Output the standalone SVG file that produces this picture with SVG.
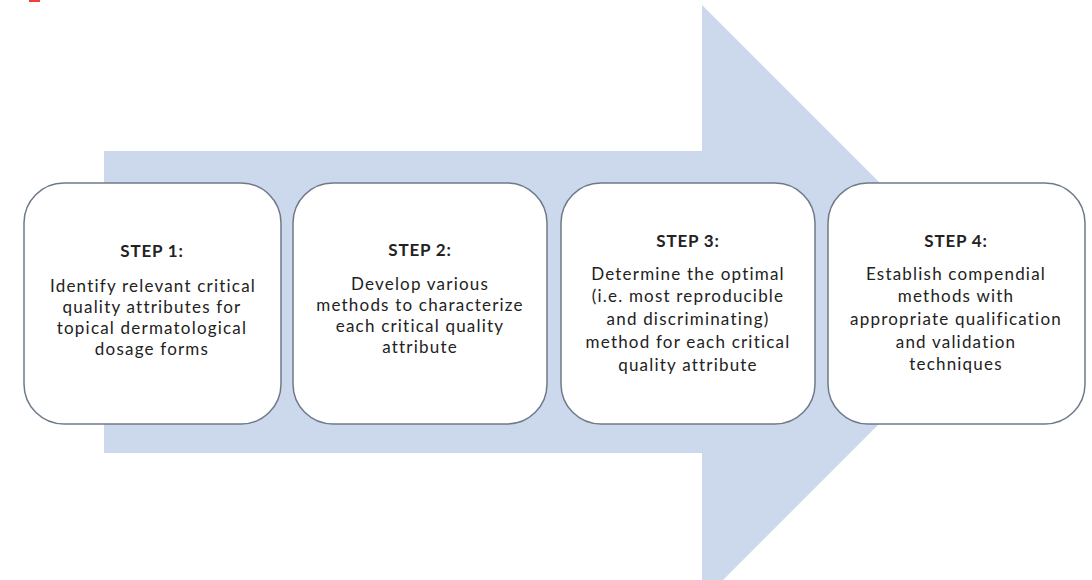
<svg xmlns="http://www.w3.org/2000/svg" width="1092" height="580" viewBox="0 0 1092 580">
  <style>
    .step { fill: #ffffff; stroke: #6d7a88; stroke-width: 1.5; }
    .label { font-family: Lato, "Liberation Sans", sans-serif; font-size: 17px; letter-spacing: 1.2px; fill: #222222; text-anchor: middle; }
    .title { font-weight: bold; letter-spacing: 0.8px; }
  </style>
  <rect width="1092" height="580" fill="#ffffff"/>
  <!-- red mark at the top edge -->
  <rect x="29" y="0" width="11" height="2" fill="#f04040"/>

  <!-- large background arrow -->
  <g id="flow-arrow">
    <polygon points="104,151 702,151 702,5 1000,303 702,601 702,453 104,453" fill="#ccd8eb"/>
  </g>

  <g id="step1">
    <rect class="step" x="24" y="183" width="257" height="241" rx="40" ry="40"/>
    <text class="label title" x="152" y="257">STEP 1:</text>
    <text class="label" x="153" y="292">Identify relevant critical</text>
    <text class="label" x="152" y="313">quality attributes for</text>
    <text class="label" x="152" y="334">topical dermatological</text>
    <text class="label" x="152" y="355">dosage forms</text>
  </g>

  <g id="step2">
    <rect class="step" x="293" y="183" width="254" height="241" rx="40" ry="40"/>
    <text class="label title" x="420" y="256">STEP 2:</text>
    <text class="label" x="420" y="290">Develop various</text>
    <text class="label" x="420" y="311">methods to characterize</text>
    <text class="label" x="420" y="332">each critical quality</text>
    <text class="label" x="420" y="353">attribute</text>
  </g>

  <g id="step3">
    <rect class="step" x="561" y="183" width="254" height="241" rx="40" ry="40"/>
    <text class="label title" x="688" y="247">STEP 3:</text>
    <text class="label" x="688" y="280">Determine the optimal</text>
    <text class="label" x="688" y="302">(i.e. most reproducible</text>
    <text class="label" x="688" y="325">and discriminating)</text>
    <text class="label" x="688" y="348">method for each critical</text>
    <text class="label" x="688" y="371">quality attribute</text>
  </g>

  <g id="step4">
    <rect class="step" x="828" y="183" width="257" height="241" rx="40" ry="40"/>
    <text class="label title" x="956" y="247">STEP 4:</text>
    <text class="label" x="956" y="280">Establish compendial</text>
    <text class="label" x="956" y="302">methods with</text>
    <text class="label" x="956" y="325">appropriate qualification</text>
    <text class="label" x="956" y="348">and validation</text>
    <text class="label" x="956" y="370">techniques</text>
  </g>
</svg>
